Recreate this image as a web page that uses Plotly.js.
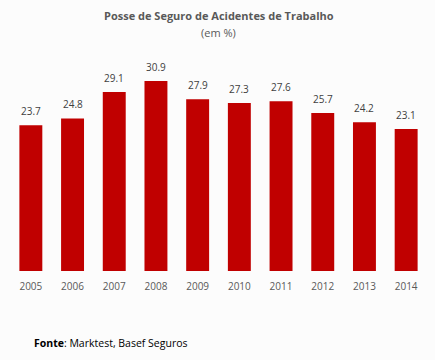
<!DOCTYPE html>
<html><head><meta charset="utf-8">
<script src="https://cdn.plot.ly/plotly-3.0.1.min.js"></script>
<style>html,body{margin:0;padding:0;background:#fcfcfc;}</style>
</head><body><div id="chart" style="width:435px;height:360px;"></div>
<script>
const years = ['2005','2006','2007','2008','2009','2010','2011','2012','2013','2014'];
const values = [23.7, 24.8, 29.1, 30.9, 27.9, 27.3, 27.6, 25.7, 24.2, 23.1];
const titleText = '<b>Posse de Seguro de Acidentes de Trabalho</b>';
const subtitleText = '(em %)';
const sourceText = '<b>Fonte</b>: Marktest, Basef Seguros';

const fontFam = 'Open Sans, Liberation Sans, sans-serif';
const W = 435, H = 360, ML = 10, MR = 8, MT = 68, MB = 89;
const plotW = W - ML - MR, plotH = H - MT - MB;
const px = (x) => (x - ML) / plotW;
const py = (y) => (H - MB - y) / plotH;

const valueAnns = values.map((v, i) => ({
  x: i, y: v, xref: 'x', yref: 'y', text: v.toFixed(1), showarrow: false,
  yanchor: 'middle', yshift: 14,
  font: {family: fontFam, size: 10, color: '#404040'}
}));

const data = [{
  type: 'bar', x: years, y: values,
  marker: {color: '#c00000'}, hoverinfo: 'none'
}];
const layout = {
  width: W, height: H,
  paper_bgcolor: '#fcfcfc', plot_bgcolor: '#fcfcfc',
  margin: {l: ML, r: MR, t: MT, b: MB},
  bargap: 0.45,
  showlegend: false,
  xaxis: {type: 'category', range: [-0.5, 9.5], showgrid: false, zeroline: false, showline: false,
          ticks: 'outside', ticklen: 6, tickcolor: 'rgba(0,0,0,0)',
          tickfont: {family: fontFam, size: 10, color: '#595959'}},
  yaxis: {range: [0, 33], visible: false, showgrid: false, zeroline: false},
  annotations: [
    {text: titleText, x: 0.5, y: py(15), xref: 'paper', yref: 'paper', showarrow: false, yanchor: 'middle',
     font: {family: fontFam, size: 11, color: '#595959'}},
    {text: subtitleText, x: 0.5, y: py(32), xref: 'paper', yref: 'paper', showarrow: false, yanchor: 'middle',
     font: {family: fontFam, size: 11, color: '#595959'}},
    {text: sourceText, x: px(32), y: py(343), xref: 'paper', yref: 'paper', showarrow: false,
     xanchor: 'left', yanchor: 'middle',
     font: {family: fontFam, size: 10.5, color: '#000000'}}
  ].concat(valueAnns)
};
Plotly.newPlot('chart', data, layout, {displayModeBar: false, staticPlot: true});
</script></body></html>
